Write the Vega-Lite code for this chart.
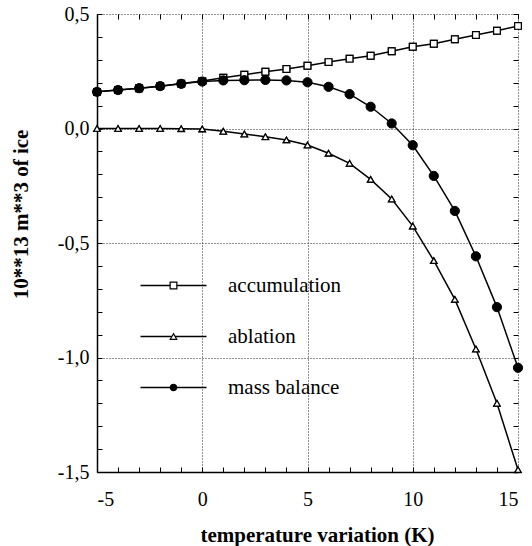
{
  "$schema": "https://vega.github.io/schema/vega-lite/v6.json",
  "width": 421,
  "height": 458,
  "autosize": "none",
  "padding": {"left": 97, "top": 14, "right": 14, "bottom": 74},
  "background": "white",
  "config": {
    "view": {"stroke": null},
    "font": "Liberation Serif",
    "axis": {"labelFont": "Liberation Serif", "titleFont": "Liberation Serif", "labelColor": "black", "titleColor": "black"},
    "legend": {"labelFont": "Liberation Serif"}
  },
  "data": {"values": [
    {"T": -5, "series": "accumulation", "v": 0.16}, {"T": -4, "series": "accumulation", "v": 0.168}, {"T": -3, "series": "accumulation", "v": 0.176}, {"T": -2, "series": "accumulation", "v": 0.185}, {"T": -1, "series": "accumulation", "v": 0.196}, {"T": 0, "series": "accumulation", "v": 0.207}, {"T": 1, "series": "accumulation", "v": 0.222}, {"T": 2, "series": "accumulation", "v": 0.235}, {"T": 3, "series": "accumulation", "v": 0.248}, {"T": 4, "series": "accumulation", "v": 0.26}, {"T": 5, "series": "accumulation", "v": 0.274}, {"T": 6, "series": "accumulation", "v": 0.29}, {"T": 7, "series": "accumulation", "v": 0.305}, {"T": 8, "series": "accumulation", "v": 0.318}, {"T": 9, "series": "accumulation", "v": 0.337}, {"T": 10, "series": "accumulation", "v": 0.357}, {"T": 11, "series": "accumulation", "v": 0.37}, {"T": 12, "series": "accumulation", "v": 0.39}, {"T": 13, "series": "accumulation", "v": 0.408}, {"T": 14, "series": "accumulation", "v": 0.427}, {"T": 15, "series": "accumulation", "v": 0.448},
    {"T": -5, "series": "ablation", "v": 0}, {"T": -4, "series": "ablation", "v": 0}, {"T": -3, "series": "ablation", "v": 0}, {"T": -2, "series": "ablation", "v": 0}, {"T": -1, "series": "ablation", "v": -0.001}, {"T": 0, "series": "ablation", "v": -0.002}, {"T": 1, "series": "ablation", "v": -0.012}, {"T": 2, "series": "ablation", "v": -0.024}, {"T": 3, "series": "ablation", "v": -0.036}, {"T": 4, "series": "ablation", "v": -0.05}, {"T": 5, "series": "ablation", "v": -0.072}, {"T": 6, "series": "ablation", "v": -0.108}, {"T": 7, "series": "ablation", "v": -0.152}, {"T": 8, "series": "ablation", "v": -0.222}, {"T": 9, "series": "ablation", "v": -0.308}, {"T": 10, "series": "ablation", "v": -0.426}, {"T": 11, "series": "ablation", "v": -0.577}, {"T": 12, "series": "ablation", "v": -0.746}, {"T": 13, "series": "ablation", "v": -0.963}, {"T": 14, "series": "ablation", "v": -1.2}, {"T": 15, "series": "ablation", "v": -1.49},
    {"T": -5, "series": "mass balance", "v": 0.16}, {"T": -4, "series": "mass balance", "v": 0.168}, {"T": -3, "series": "mass balance", "v": 0.176}, {"T": -2, "series": "mass balance", "v": 0.185}, {"T": -1, "series": "mass balance", "v": 0.195}, {"T": 0, "series": "mass balance", "v": 0.205}, {"T": 1, "series": "mass balance", "v": 0.21}, {"T": 2, "series": "mass balance", "v": 0.211}, {"T": 3, "series": "mass balance", "v": 0.212}, {"T": 4, "series": "mass balance", "v": 0.21}, {"T": 5, "series": "mass balance", "v": 0.202}, {"T": 6, "series": "mass balance", "v": 0.182}, {"T": 7, "series": "mass balance", "v": 0.15}, {"T": 8, "series": "mass balance", "v": 0.095}, {"T": 9, "series": "mass balance", "v": 0.022}, {"T": 10, "series": "mass balance", "v": -0.073}, {"T": 11, "series": "mass balance", "v": -0.207}, {"T": 12, "series": "mass balance", "v": -0.36}, {"T": 13, "series": "mass balance", "v": -0.558}, {"T": 14, "series": "mass balance", "v": -0.78}, {"T": 15, "series": "mass balance", "v": -1.045}
  ]},
  "resolve": {"axis": {"x": "independent", "y": "independent"}},
  "layer": [
    {
      "mark": {"type": "line", "color": "black", "strokeWidth": 1.5},
      "encoding": {
        "x": {"field": "T", "type": "quantitative", "scale": {"domain": [-5, 15], "nice": false, "zero": false},
          "axis": {"orient": "bottom", "values": [-5,-4,-3,-2,-1,0,1,2,3,4,5,6,7,8,9,10,11,12,13,14,15],
            "labelExpr": "datum.value % 5 === 0 ? toString(datum.value) : ''", "labelOverlap": false, "labelFontSize": 20, "labelPadding": 22,
            "grid": true, "gridColor": "#222", "gridDash": [1, 2], "gridWidth": 1,
            "gridOpacity": {"condition": {"test": "datum.value % 5 === 0", "value": 1}, "value": 0},
            "ticks": true, "tickSize": -5, "tickColor": "black", "tickWidth": 1,
            "domain": true, "domainColor": "black", "domainWidth": 1.5,
            "title": "temperature variation (K)", "titleFontSize": 21, "titleFontWeight": "bold", "titleBaseline": "alphabetic", "titleY": 69, "titleX": 220}},
        "y": {"field": "v", "type": "quantitative", "scale": {"domain": [-1.5, 0.5], "nice": false, "zero": false},
          "axis": {"orient": "left", "values": [-1.5,-1.4,-1.3,-1.2,-1.1,-1.0,-0.9,-0.8,-0.7,-0.6,-0.5,-0.4,-0.3,-0.2,-0.1,0,0.1,0.2,0.3,0.4,0.5],
            "labelExpr": "abs(datum.value*2 - round(datum.value*2)) < 0.000001 ? (datum.value < 0 ? '-' : '') + toString(floor(abs(datum.value) + 0.000001)) + ',' + toString(round(abs(datum.value)*10) % 10) : ''",
            "labelOverlap": false, "labelFontSize": 20, "labelPadding": 13,
            "grid": true, "gridColor": "#222", "gridDash": [1, 2], "gridWidth": 1,
            "gridOpacity": {"condition": {"test": "abs(datum.value*2 - round(datum.value*2)) < 0.000001", "value": 1}, "value": 0},
            "ticks": true, "tickSize": -5, "tickColor": "black", "tickWidth": 1,
            "domain": true, "domainColor": "black", "domainWidth": 1.5,
            "title": "10**13 m**3 of ice", "titleFontSize": 21, "titleFontWeight": "bold", "titleAngle": -90, "titleBaseline": "middle", "titleAlign": "center", "titleX": -76, "titleY": 200}},
        "detail": {"field": "series"},
        "opacity": {"field": "series", "type": "ordinal",
          "scale": {"range": [1, 1, 1]},
          "legend": {"orient": "none", "legendX": 66, "legendY": 261, "title": null, "padding": 0,
            "labelFontSize": 21, "labelExpr": "' '", "labelOffset": 44, "rowPadding": 29, "labelLimit": 300,
            "symbolType": "M-6.6,0H6.6", "symbolSize": 100, "symbolStrokeColor": "black", "symbolStrokeWidth": 1.5, "symbolOpacity": 1}}
      }
    },
    {
      "mark": {"type": "point", "filled": true, "stroke": "black", "strokeWidth": 1.2, "opacity": 1},
      "encoding": {
        "x": {"field": "T", "type": "quantitative", "axis": null},
        "y": {"field": "v", "type": "quantitative", "axis": null},
        "shape": {"field": "series", "type": "nominal",
          "scale": {"domain": ["accumulation", "ablation", "mass balance"], "range": ["square", "triangle-up", "circle"]},
          "legend": {"orient": "none", "legendX": 66, "legendY": 261, "title": null, "padding": 0,
            "labelFontSize": 21, "labelColor": "black", "labelOffset": 44, "rowPadding": 29, "labelLimit": 300,
            "symbolStrokeColor": "black", "symbolStrokeWidth": 1.2, "symbolOpacity": 1}},
        "fill": {"field": "series", "type": "nominal", "scale": {"domain": ["accumulation", "ablation", "mass balance"], "range": ["white", "white", "black"]}},
        "size": {"field": "series", "type": "nominal", "scale": {"domain": ["accumulation", "ablation", "mass balance"], "range": [45, 40, 85]}}
      }
    },
    {
      "transform": [{"filter": "datum.series === 'accumulation'"}],
      "mark": {"type": "point", "shape": "square", "filled": true, "fill": "white", "stroke": "black", "strokeWidth": 1.2, "size": 45, "opacity": 1},
      "encoding": {
        "x": {"field": "T", "type": "quantitative",
          "axis": {"orient": "top", "values": [-5,-4,-3,-2,-1,0,1,2,3,4,5,6,7,8,9,10,11,12,13,14,15], "labels": false, "grid": false, "domain": false, "ticks": true, "tickSize": -5, "tickColor": "black", "title": null}},
        "y": {"field": "v", "type": "quantitative",
          "axis": {"orient": "right", "values": [-1.5,-1.4,-1.3,-1.2,-1.1,-1.0,-0.9,-0.8,-0.7,-0.6,-0.5,-0.4,-0.3,-0.2,-0.1,0,0.1,0.2,0.3,0.4,0.5], "labels": false, "grid": false, "domain": false, "ticks": true, "tickSize": -5, "tickColor": "black", "title": null}}
      }
    },
    {
      "transform": [{"filter": "datum.series === 'ablation'"}],
      "mark": {"type": "point", "shape": "triangle-up", "filled": true, "fill": "white", "stroke": "black", "strokeWidth": 1.2, "size": 40, "opacity": 1},
      "encoding": {
        "x": {"field": "T", "type": "quantitative", "axis": null},
        "y": {"field": "v", "type": "quantitative", "axis": null}
      }
    },
    {
      "transform": [{"filter": "datum.series === 'mass balance'"}],
      "mark": {"type": "point", "shape": "circle", "filled": true, "fill": "black", "stroke": "black", "strokeWidth": 1, "size": 85, "opacity": 1},
      "encoding": {
        "x": {"field": "T", "type": "quantitative", "axis": null},
        "y": {"field": "v", "type": "quantitative", "axis": null}
      }
    }
  ]
}
